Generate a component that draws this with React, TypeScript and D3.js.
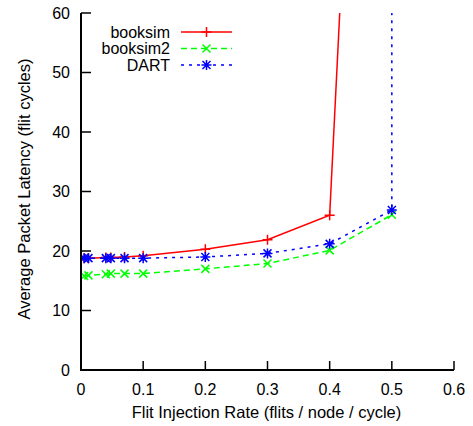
import React from 'react';
import * as d3 from 'd3';

const MARGIN = { top: 13, right: 19, bottom: 56, left: 81 };
const WIDTH = 473;
const HEIGHT = 426;

const xTicks = [0, 0.1, 0.2, 0.3, 0.4, 0.5, 0.6];
const yTicks = [0, 10, 20, 30, 40, 50, 60];

const booksimX = [0.005, 0.012, 0.04, 0.048, 0.07, 0.1, 0.2, 0.3, 0.4, 0.45];
const booksimY = [18.8, 18.8, 18.9, 18.9, 19.0, 19.2, 20.3, 21.9, 26.0, 131];

const booksim2X = [0.005, 0.012, 0.04, 0.048, 0.07, 0.1, 0.2, 0.3, 0.4, 0.5];
const booksim2Y = [15.8, 15.9, 16.1, 16.2, 16.2, 16.2, 17.0, 17.9, 20.1, 26.1];

const dartX = [0.005, 0.012, 0.04, 0.048, 0.07, 0.1, 0.2, 0.3, 0.4, 0.5, 0.5];
const dartY = [18.8, 18.8, 18.8, 18.8, 18.8, 18.8, 19.0, 19.6, 21.2, 26.9, 500];

type Series = { name: string; xs: number[]; ys: number[]; color: string; dash: string; marker: string };

const series: Series[] = [
  { name: 'booksim', xs: booksimX, ys: booksimY, color: '#ff0000', dash: '', marker: 'plus' },
  { name: 'booksim2', xs: booksim2X, ys: booksim2Y, color: '#00ff00', dash: '6,4', marker: 'cross' },
  { name: 'DART', xs: dartX, ys: dartY, color: '#0000ff', dash: '3,5', marker: 'star' },
];

const Marker = ({ type, x, y, color }: { type: string; x: number; y: number; color: string }) => {
  const s = 5;
  const p = 'M' + (x - s) + ',' + y + 'H' + (x + s) + 'M' + x + ',' + (y - s) + 'V' + (y + s);
  const c = 'M' + (x - s * 0.8) + ',' + (y - s * 0.8) + 'L' + (x + s * 0.8) + ',' + (y + s * 0.8) +
    'M' + (x - s * 0.8) + ',' + (y + s * 0.8) + 'L' + (x + s * 0.8) + ',' + (y - s * 0.8);
  const d = type === 'plus' ? p : type === 'cross' ? c : p + c;
  return <path d={d} stroke={color} strokeWidth={1.5} fill="none" />;
};

const App = () => {
  const boundsWidth = WIDTH - MARGIN.left - MARGIN.right;
  const boundsHeight = HEIGHT - MARGIN.top - MARGIN.bottom;

  const xScale = d3.scaleLinear().domain([0, 0.6]).range([0, boundsWidth]);
  const yScale = d3.scaleLinear().domain([0, 60]).range([boundsHeight, 0]);

  const line = d3.line<[number, number]>()
    .x((d) => xScale(d[0]))
    .y((d) => yScale(d[1]));

  const font = 'Liberation Sans, Arial, Helvetica, sans-serif';

  return (
    <svg width={WIDTH} height={HEIGHT} style={{ position: 'absolute', left: 0, top: 0 }} fontFamily={font}>
      <defs>
        <clipPath id="plot">
          <rect x={0} y={0} width={boundsWidth} height={boundsHeight} />
        </clipPath>
      </defs>
      <g transform={`translate(${MARGIN.left},${MARGIN.top})`}>
        {/* series */}
        <g clipPath="url(#plot)">
          {series.map((s) => {
            const pts = s.xs.map((x, i) => [x, s.ys[i]] as [number, number]);
            return (
              <g key={s.name}>
                <path d={line(pts) ?? ''} stroke={s.color} strokeWidth={1.5} fill="none" strokeDasharray={s.dash} />
                {pts.map((d, i) => (
                  <Marker key={i} type={s.marker} x={xScale(d[0])} y={yScale(d[1])} color={s.color} />
                ))}
              </g>
            );
          })}
        </g>

        {/* axes */}
        <path d={`M0,0V${boundsHeight}H${boundsWidth}`} stroke="#000" strokeWidth={2} fill="none" />
        {yTicks.map((t) => (
          <g key={t}>
            <line x1={0} x2={10} y1={yScale(t)} y2={yScale(t)} stroke="#000" strokeWidth={1.5} />
            <text x={-11} y={yScale(t)} textAnchor="end" dominantBaseline="central" fontSize={16}>
              {t}
            </text>
          </g>
        ))}
        {xTicks.map((t) => (
          <g key={t}>
            <line x1={xScale(t)} x2={xScale(t)} y1={boundsHeight} y2={boundsHeight - 9} stroke="#000" strokeWidth={1.5} />
            <text x={xScale(t)} y={boundsHeight + 19} textAnchor="middle" dominantBaseline="central" fontSize={16}>
              {t}
            </text>
          </g>
        ))}

        <text x={boundsWidth / 2 - 1} y={boundsHeight + 42} textAnchor="middle" dominantBaseline="central" fontSize={16.5}>
          Flit Injection Rate (flits / node / cycle)
        </text>
        <text
          transform={`translate(${-57},${176}) rotate(-90)`}
          textAnchor="middle"
          dominantBaseline="central"
          fontSize={16.5}
        >
          Average Packet Latency (flit cycles)
        </text>

        {/* legend */}
        {series.map((s, i) => {
          const ly = 19 + i * 16.5;
          return (
            <g key={s.name}>
              <text x={89} y={ly} textAnchor="end" dominantBaseline="central" fontSize={16}>
                {s.name}
              </text>
              <line x1={100} x2={151} y1={ly} y2={ly} stroke={s.color} strokeWidth={1.5} strokeDasharray={s.dash} />
              <Marker type={s.marker} x={125.5} y={ly} color={s.color} />
            </g>
          );
        })}
      </g>
    </svg>
  );
};

export default App;
